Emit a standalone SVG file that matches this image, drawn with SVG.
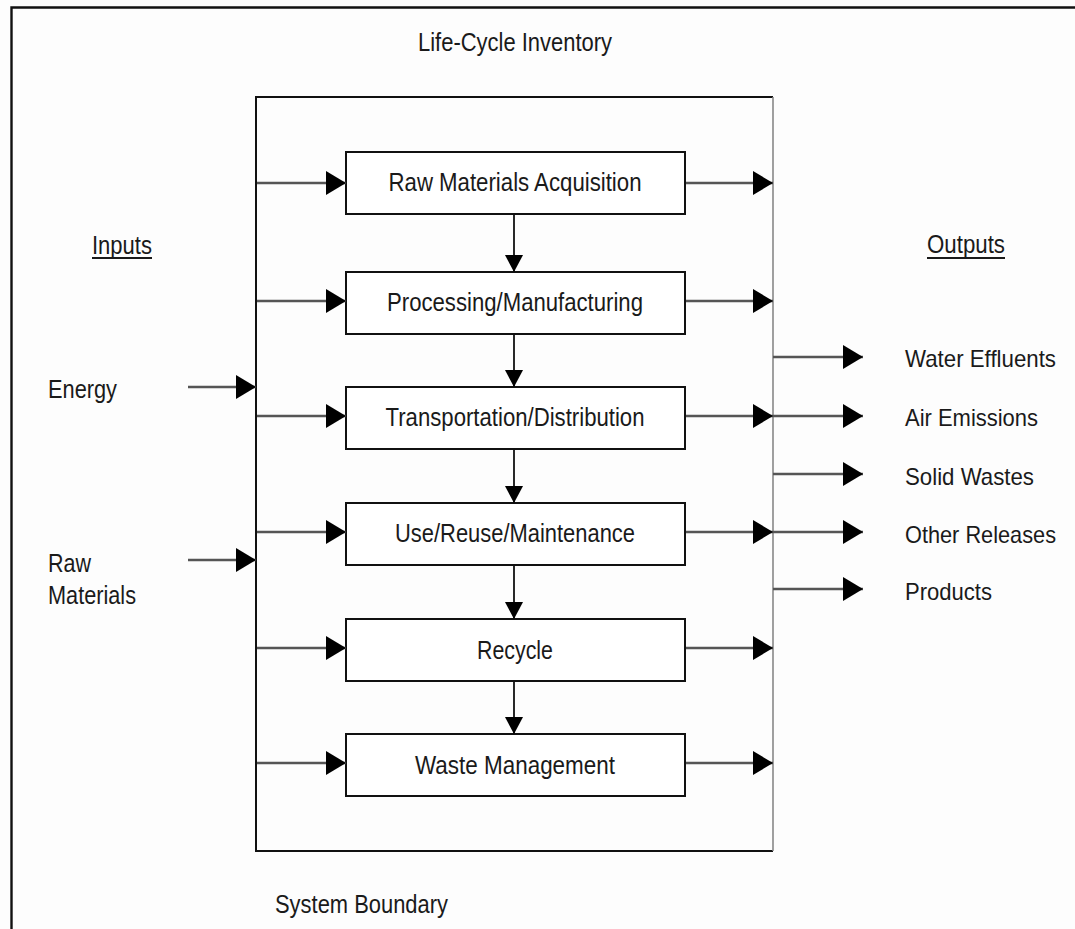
<svg xmlns="http://www.w3.org/2000/svg" width="1075" height="929" viewBox="0 0 1075 929">
<style>
.bg{fill:#fdfdfd}
.frame{fill:none;stroke:#111;stroke-width:2.4}
.bnd{fill:none;stroke:#111;stroke-width:2}
.bndr{fill:none;stroke:#888;stroke-width:1.6}
.box{fill:#fff;stroke:#111;stroke-width:2}
.t{font-family:"Liberation Sans",Arial,sans-serif;font-size:26px;fill:#1a1a1a}
.r{font-size:24px}
.c{text-anchor:middle}
.ul{stroke:#1a1a1a;stroke-width:2}
.h{stroke:#555;stroke-width:2.4;fill:none;marker-end:url(#ah)}
.v{stroke:#111;stroke-width:1.8;fill:none;marker-end:url(#av)}
</style>
<defs>
<marker id="ah" viewBox="0 0 20 24" refX="20" refY="12" markerWidth="20" markerHeight="24" markerUnits="userSpaceOnUse" orient="auto">
<path d="M0,0 L20,12 L0,24 Z" fill="#000"/>
</marker>
<marker id="av" viewBox="0 0 17 18" refX="17" refY="9" markerWidth="17" markerHeight="18" markerUnits="userSpaceOnUse" orient="auto">
<path d="M0,0 L17,9 L0,18 Z" fill="#000"/>
</marker>
</defs>
<rect class="bg" x="0" y="0" width="1075" height="929"/>
<path class="frame" d="M11.5,929 V7.5 H1075"/>
<g id="system-boundary">
<path class="bnd" d="M773,851 H256 V97 H773"/>
<path class="bndr" d="M773,97 V851"/>
<text class="t" x="275" y="913" textLength="173" lengthAdjust="spacingAndGlyphs">System Boundary</text>
</g>
<g id="title">
<text class="t c" x="515" y="51" textLength="194" lengthAdjust="spacingAndGlyphs">Life-Cycle Inventory</text>
</g>
<g id="inputs-heading">
<text class="t" x="92" y="254" textLength="60" lengthAdjust="spacingAndGlyphs">Inputs</text>
<line class="ul" x1="92" y1="258" x2="152" y2="258"/>
</g>
<g id="outputs-heading">
<text class="t" x="927" y="253" textLength="78" lengthAdjust="spacingAndGlyphs">Outputs</text>
<line class="ul" x1="927" y1="258" x2="1005" y2="258"/>
</g>
<g id="energy"><text class="t" x="48" y="398" textLength="69" lengthAdjust="spacingAndGlyphs">Energy</text></g>
<g id="raw-materials">
<text class="t" x="48" y="572" textLength="43" lengthAdjust="spacingAndGlyphs">Raw</text>
<text class="t" x="48" y="604" textLength="88" lengthAdjust="spacingAndGlyphs">Materials</text>
</g>
<g id="n1"><rect class="box" x="346" y="152" width="339" height="62"/><text class="t c" x="515" y="191" textLength="253" lengthAdjust="spacingAndGlyphs">Raw Materials Acquisition</text></g>
<g id="n2"><rect class="box" x="346" y="272" width="339" height="62"/><text class="t c" x="515" y="311" textLength="256" lengthAdjust="spacingAndGlyphs">Processing/Manufacturing</text></g>
<g id="n3"><rect class="box" x="346" y="387" width="339" height="62"/><text class="t c" x="515" y="426" textLength="259" lengthAdjust="spacingAndGlyphs">Transportation/Distribution</text></g>
<g id="n4"><rect class="box" x="346" y="503" width="339" height="62"/><text class="t c" x="515" y="542" textLength="240" lengthAdjust="spacingAndGlyphs">Use/Reuse/Maintenance</text></g>
<g id="n5"><rect class="box" x="346" y="619" width="339" height="62"/><text class="t c" x="515" y="659" textLength="76" lengthAdjust="spacingAndGlyphs">Recycle</text></g>
<g id="n6"><rect class="box" x="346" y="734" width="339" height="62"/><text class="t c" x="515" y="774" textLength="200" lengthAdjust="spacingAndGlyphs">Waste Management</text></g>
<g id="out-water"><text class="t r" x="905" y="367" textLength="151" lengthAdjust="spacingAndGlyphs">Water Effluents</text></g>
<g id="out-air"><text class="t r" x="905" y="426" textLength="133" lengthAdjust="spacingAndGlyphs">Air Emissions</text></g>
<g id="out-solid"><text class="t r" x="905" y="485" textLength="129" lengthAdjust="spacingAndGlyphs">Solid Wastes</text></g>
<g id="out-other"><text class="t r" x="905" y="543" textLength="151" lengthAdjust="spacingAndGlyphs">Other Releases</text></g>
<g id="out-products"><text class="t r" x="905" y="600" textLength="87" lengthAdjust="spacingAndGlyphs">Products</text></g>
<g id="connectors">
<line class="h" x1="188" y1="387" x2="256" y2="387"/>
<line class="h" x1="188" y1="560" x2="256" y2="560"/>
<line class="h" x1="257" y1="183" x2="346" y2="183"/>
<line class="h" x1="257" y1="301" x2="346" y2="301"/>
<line class="h" x1="257" y1="416" x2="346" y2="416"/>
<line class="h" x1="257" y1="532" x2="346" y2="532"/>
<line class="h" x1="257" y1="648" x2="346" y2="648"/>
<line class="h" x1="257" y1="763" x2="346" y2="763"/>
<line class="h" x1="686" y1="183" x2="773" y2="183"/>
<line class="h" x1="686" y1="301" x2="773" y2="301"/>
<line class="h" x1="686" y1="416" x2="773" y2="416"/>
<line class="h" x1="686" y1="532" x2="773" y2="532"/>
<line class="h" x1="686" y1="648" x2="773" y2="648"/>
<line class="h" x1="686" y1="763" x2="773" y2="763"/>
<line class="h" x1="773" y1="357" x2="863" y2="357"/>
<line class="h" x1="773" y1="416" x2="863" y2="416"/>
<line class="h" x1="773" y1="474" x2="863" y2="474"/>
<line class="h" x1="773" y1="532" x2="863" y2="532"/>
<line class="h" x1="773" y1="589" x2="863" y2="589"/>
<line class="v" x1="514" y1="213" x2="514" y2="272"/>
<line class="v" x1="514" y1="333" x2="514" y2="387"/>
<line class="v" x1="514" y1="448" x2="514" y2="503"/>
<line class="v" x1="514" y1="564" x2="514" y2="619"/>
<line class="v" x1="514" y1="680" x2="514" y2="734"/>
</g>
</svg>
